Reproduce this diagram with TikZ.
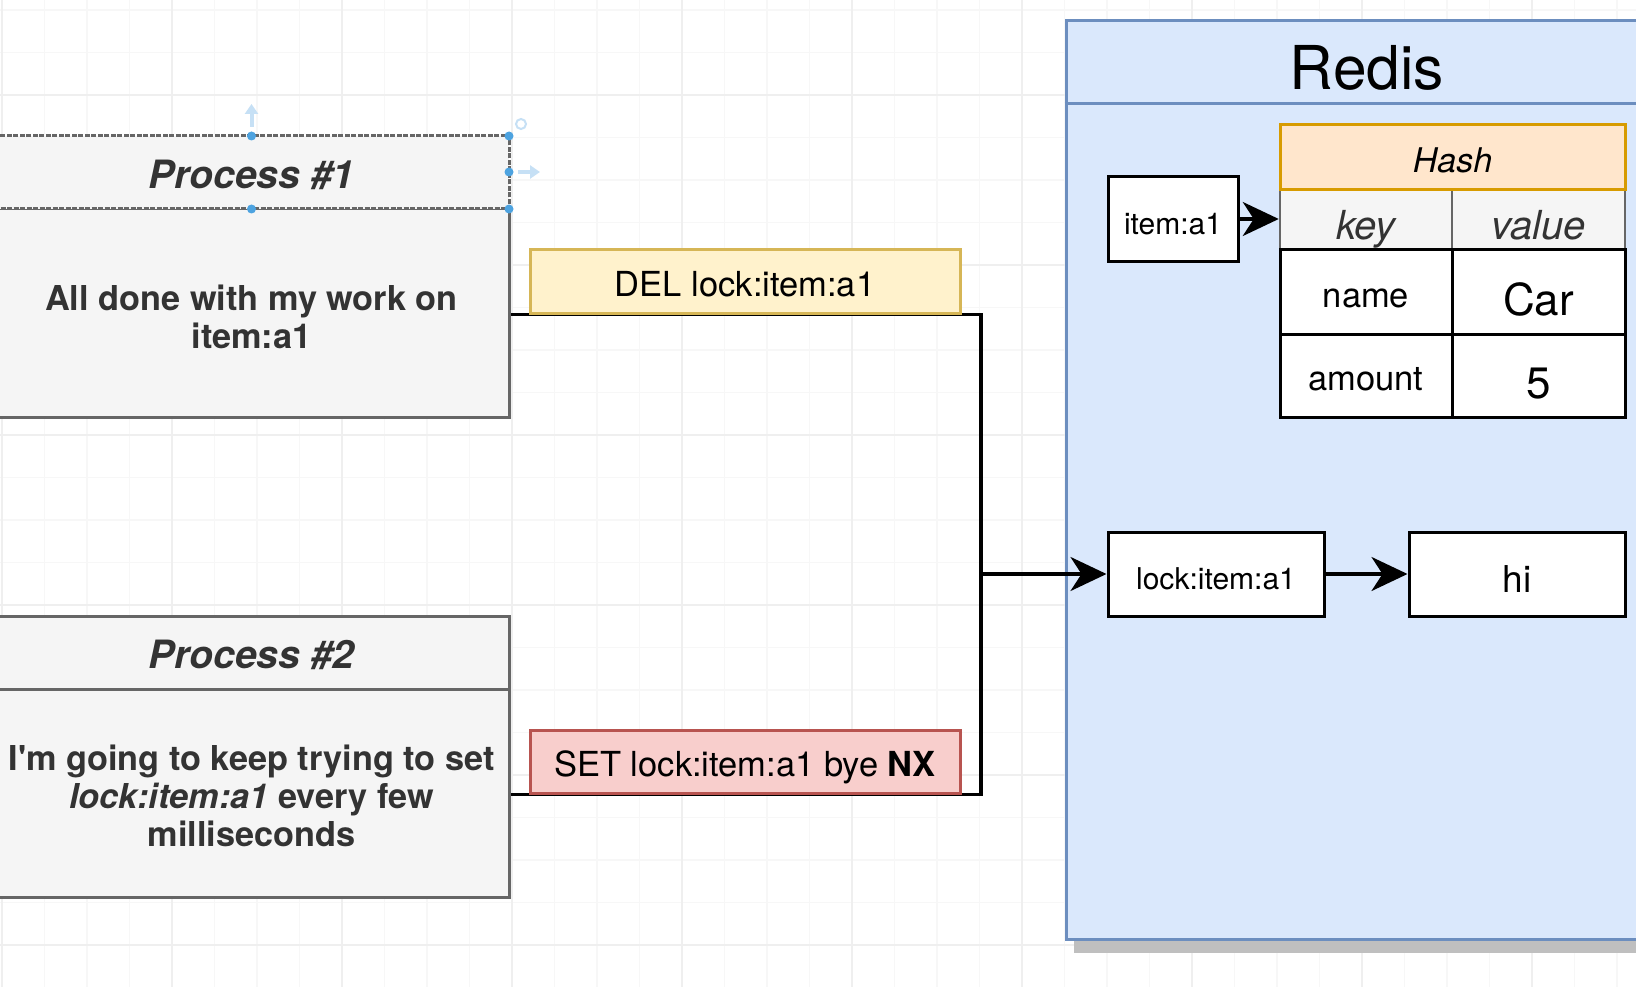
\documentclass[tikz,border=0pt]{standalone}
\usepackage{fontspec}
\setmainfont{TeX Gyre Heros}
\usetikzlibrary{arrows.meta}
\pgfdeclarelayer{grid}
\pgfdeclarelayer{bg}
\pgfsetlayers{grid,bg,main}
\definecolor{procfill}{HTML}{F5F5F5}
\definecolor{procline}{HTML}{666666}
\definecolor{proctext}{HTML}{333333}
\definecolor{redisfill}{HTML}{DAE8FC}
\definecolor{redisline}{HTML}{6C8EBF}
\definecolor{hashfill}{HTML}{FFE6CC}
\definecolor{hashline}{HTML}{D79B00}
\definecolor{delfill}{HTML}{FFF2CC}
\definecolor{delline}{HTML}{D6B656}
\definecolor{setfill}{HTML}{F8CECC}
\definecolor{setline}{HTML}{B85450}
\definecolor{gridminor}{HTML}{F7F7F7}
\definecolor{gridmajor}{HTML}{EFEFEF}
\definecolor{shadowgray}{HTML}{BFBFBF}
\definecolor{handleblue}{HTML}{4DA3E0}
\definecolor{paleblue}{HTML}{C6E0F5}
\tikzset{
  proc/.style={draw=procline, fill=procfill, line width=3pt, inner sep=0pt},
  proctxt/.style={text=proctext, font=\fontsize{34.3}{38}\selectfont\bfseries,
    align=center, inner sep=0pt},
  prochead/.style={proc, text=proctext, font=\fontsize{39}{44}\selectfont\bfseries\itshape,
    text height=32pt, text depth=0pt},
  cmdlabel/.style={line width=3pt, font=\fontsize{34.5}{38}\selectfont, inner sep=0pt,
    text height=30.8pt, text depth=0pt},
  keybox/.style={draw=black, fill=white, line width=3pt, inner sep=0pt},
  conn/.style={line width=3.3pt, line join=miter},
  arr/.style={conn, -{Stealth[length=36pt,width=34pt,inset=11pt]}},
}
\begin{document}
\begin{tikzpicture}[x=1pt,y=-1pt]
\useasboundingbox (0,0) rectangle (1636,987);
\clip (0,0) rectangle (1636,987);
% grid
\begin{pgfonlayer}{grid}
\fill[white] (0,0) rectangle (1636,987);
\foreach \k in {0,...,39} {
  \pgfmathsetmacro\xx{2+42.5*\k}
  \draw[gridminor, line width=1.2pt] (\xx,0) -- (\xx,987);
}
\foreach \k in {0,...,23} {
  \pgfmathsetmacro\yy{10+42.5*\k}
  \draw[gridminor, line width=1.2pt] (0,\yy) -- (1636,\yy);
}
\foreach \xx in {2,172,...,1700} \draw[gridmajor, line width=1.2pt] (\xx,0) -- (\xx,987);
\foreach \yy in {95,265,...,1000} \draw[gridmajor, line width=1.2pt] (0,\yy) -- (1636,\yy);
\end{pgfonlayer}

% Process 1
\node[proc, minimum width=515pt, minimum height=208pt] (p1b) at (251.5,313) {};
\node[prochead, minimum width=515pt, minimum height=73pt,
  dash pattern=on 5pt off 1.5pt] (p1h) at (251.5,172.5) {Process \#1};
\node[proctxt] (p1t) at (251.5,316.5) {All done with my work on\\item:a1};
% Process 2
\node[proc, minimum width=515pt, minimum height=208pt] (p2b) at (251.5,793) {};
\node[prochead, minimum width=515pt, minimum height=73pt] (p2h) at (251.5,652.5) {Process \#2};
\node[proctxt] (p2t) at (251.5,796) {I\textquotesingle m going to keep trying to set\\\textit{lock:item:a1} every few\\milliseconds};

% command labels
\node[cmdlabel, draw=delline, fill=delfill, minimum width=430pt, minimum height=63pt] (del) at (745,281.5) {DEL lock:item:a1};
\node[cmdlabel, draw=setline, fill=setfill, minimum width=430pt, minimum height=63pt] (set) at (745,761.5) {SET lock:item:a1 bye \textbf{NX}};

% Redis container
\node[draw=redisline, fill=redisfill, line width=3pt, minimum width=594pt, minimum height=918pt, inner sep=0pt] (redis) at (1363,480) {};
\draw[redisline, line width=3pt] (redis.north west |- 0,104) -- (redis.north east |- 0,104);
\node[font=\fontsize{60.5}{64}\selectfont, inner sep=0pt, text height=54.6pt, text depth=0pt, minimum height=83pt] (redistitle) at (1367,62.5) {Redis};
\begin{pgfonlayer}{bg}
\fill[shadowgray] ([shift={(9,12)}]redis.south west) rectangle ([shift={(9,12)}]redis.north east);
\end{pgfonlayer}

% item:a1 and hash
\node[keybox, minimum width=130pt, minimum height=84pt, font=\fontsize{30}{32}\selectfont, text height=31.6pt, text depth=0pt] (item) at (1173,219) {item:a1};
\node[draw=procline, fill=procfill, line width=2.5pt, minimum width=172pt, minimum height=60pt, inner sep=0pt, text=proctext, font=\fontsize{40}{42}\selectfont\itshape, text height=38.8pt, text depth=0pt] (keyc) at (1366,220) {key};
\node[draw=procline, fill=procfill, line width=2.5pt, minimum width=173pt, minimum height=60pt, inner sep=0pt, text=proctext, font=\fontsize{40}{42}\selectfont\itshape, text height=38.8pt, text depth=0pt] (valc) at (1538.5,220) {value};
\node[keybox, minimum width=172pt, minimum height=84pt, font=\fontsize{34.5}{36}\selectfont, text height=30.8pt, text depth=0pt] (namec) at (1366,292) {name};
\node[keybox, minimum width=173pt, minimum height=84pt, font=\fontsize{44}{46}\selectfont, text height=46.7pt, text depth=0pt] (carc) at (1538.5,292) {Car};
\node[keybox, minimum width=172pt, minimum height=83pt, font=\fontsize{34.5}{36}\selectfont, text height=30.8pt, text depth=0pt] (amountc) at (1366,375.5) {amount};
\node[keybox, minimum width=173pt, minimum height=83pt, font=\fontsize{44}{46}\selectfont, text height=46.7pt, text depth=0pt] (fivec) at (1538.5,375.5) {5};
\node[draw=hashline, fill=hashfill, line width=3pt, minimum width=345pt, minimum height=65pt, inner sep=0pt, font=\fontsize{34}{38}\selectfont\itshape, text height=30.5pt, text depth=0pt] (hash) at (1452.5,157.5) {Hash};

% lock and value
\node[keybox, minimum width=216pt, minimum height=84pt, font=\fontsize{30}{32}\selectfont, text height=31.6pt, text depth=0pt] (lock) at (1216,574) {lock:item:a1};
\node[keybox, minimum width=216pt, minimum height=84pt, font=\fontsize{37}{40}\selectfont, text height=36.6pt, text depth=0pt] (hi) at (1517,574) {hi};

% connectors
\coordinate (jx) at (981,574);
\begin{pgfonlayer}{bg}
\draw[conn] (p1b.east |- del.south) -- (jx |- del.south) -- (jx);
\draw[conn] (p2b.east |- set.south) -- (jx |- set.south) -- (jx);
\end{pgfonlayer}
\draw[arr] (jx) -- (lock.west);
\draw[arr] (item.east) -- (keyc.west |- item.east);
\draw[arr] (lock.east) -- (hi.west);

% selection handles on Process #1 header
\draw[paleblue, line width=4pt, -{Triangle[length=10pt,width=13pt]}] (251.5,127) -- (251.5,104);
\draw[paleblue, line width=4pt, -{Triangle[length=10pt,width=13pt]}] (518,172) -- (540,172);
\draw[paleblue, line width=2pt] (521,124) circle (5);
\foreach \p in {(251.5,136),(509,136),(251.5,209),(509,209),(509,172)}
  \fill[handleblue] \p circle (4.5);
\end{tikzpicture}
\end{document}
